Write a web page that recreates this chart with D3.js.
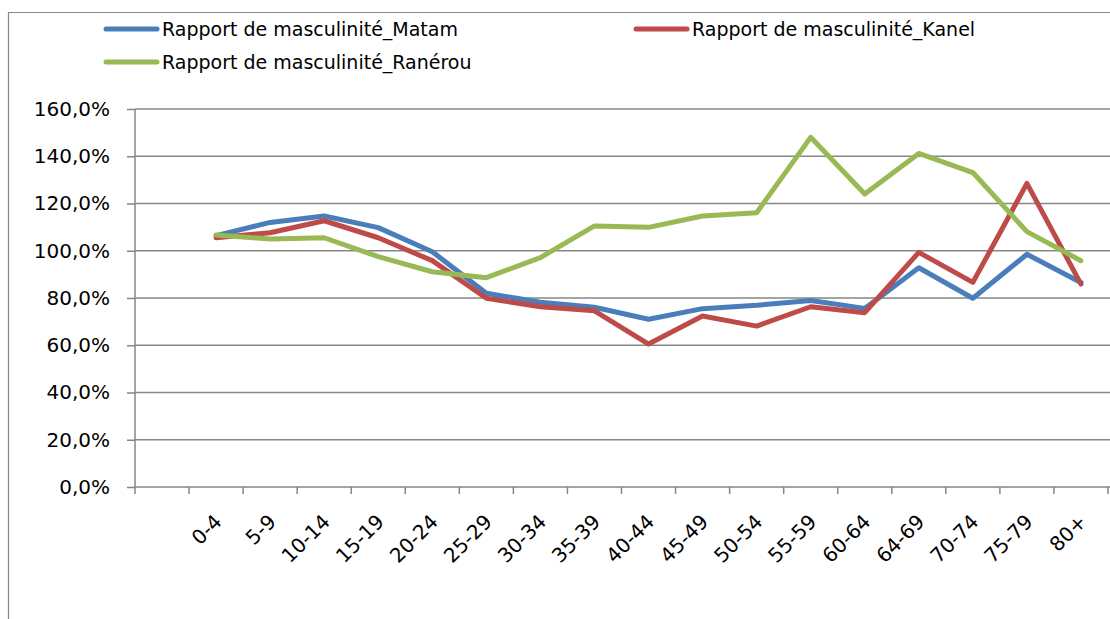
<!DOCTYPE html>
<html><head><meta charset="utf-8">
<script src="https://cdn.jsdelivr.net/npm/d3@7"></script>
<style>
html,body{margin:0;padding:0;background:#fff;}
svg{display:block;}
text{font-family:"DejaVu Sans",sans-serif;fill:#000;}
</style></head>
<body>
<svg id="chart" width="1110" height="619"></svg>
<script>
const categories = ["0-4","5-9","10-14","15-19","20-24","25-29","30-34","35-39","40-44","45-49","50-54","55-59","60-64","64-69","70-74","75-79","80+"];
const matam   = [106.4,112.0,114.7,109.8,99.6,82.0,78.2,76.1,71.0,75.5,76.9,78.9,75.6,92.8,79.9,98.5,86.6];
const kanel   = [105.5,107.6,112.7,105.5,95.8,79.9,76.3,74.6,60.5,72.4,68.1,76.3,73.8,99.3,86.6,128.5,85.9];
const ranerou = [106.7,105.0,105.5,97.5,91.1,88.6,97.1,110.5,109.9,114.7,116.1,148.0,124.0,141.2,133.1,108.1,95.8];
const seriesNames = ["Rapport de masculinité_Matam","Rapport de masculinité_Kanel","Rapport de masculinité_Ranérou"];
const seriesColors = ["#4A7EBB","#BE4B48","#98B954"];
const yTicks = [0,20,40,60,80,100,120,140,160];

(function(){
const svg = d3.select("#chart");
const pLeft = 135, pRight = 1108, pTop = 109, pBottom = 487;
const gridColor = "#868686";

svg.append("path").attr("d","M8.5,619 V12.5 H1110").attr("fill","none").attr("stroke",gridColor).attr("stroke-width",1.2);

const domain = ["", ...categories];
const x = d3.scaleBand().domain(domain).range([pLeft, pRight]);
const y = d3.scaleLinear().domain([0,160]).range([pBottom, pTop]);

svg.append("g").selectAll("line").data(yTicks.filter(d=>d>0)).join("line")
  .attr("x1", pLeft).attr("x2", 1110)
  .attr("y1", d=>y(d)).attr("y2", d=>y(d))
  .attr("stroke", gridColor).attr("stroke-width", 1.5);

const yAxis = svg.append("g").attr("transform",`translate(${pLeft},0)`)
  .call(d3.axisLeft(y).tickValues(yTicks).tickSize(8).tickPadding(17)
    .tickFormat(d => d.toFixed(1).replace(".", ",") + "%"));
yAxis.select(".domain").attr("stroke", gridColor).attr("stroke-width",1.5).attr("d",`M0,${y(160)}V${pBottom}`);
yAxis.selectAll(".tick line").attr("stroke", gridColor).attr("stroke-width",1.5);
yAxis.selectAll(".tick text").attr("font-size","20px").attr("font-family","DejaVu Sans").attr("fill","#000");

svg.append("line").attr("x1",pLeft).attr("x2",1110).attr("y1",pBottom).attr("y2",pBottom)
  .attr("stroke",gridColor).attr("stroke-width",1.5);
const bounds = domain.map(d => x(d)).concat([pRight]);
svg.append("g").selectAll("line").data(bounds).join("line")
  .attr("x1", d=>d).attr("x2", d=>d).attr("y1", pBottom).attr("y2", pBottom+7)
  .attr("stroke", gridColor).attr("stroke-width",1.5);

svg.append("g").selectAll("text").data(categories).join("text")
  .attr("text-anchor","end")
  .attr("font-size","20px")
  .attr("transform", d => `translate(${x(d)+x.bandwidth()/2+7},${pBottom+36}) rotate(-45)`)
  .text(d=>d);

const allSeries = [matam, kanel, ranerou];
const line = d3.line().x((d,i)=>x(categories[i])+x.bandwidth()/2).y(d=>y(d));
allSeries.forEach((s,i)=>{
  svg.append("path").datum(s).attr("d", line).attr("fill","none")
    .attr("stroke", seriesColors[i]).attr("stroke-width",5).attr("stroke-linejoin","round").attr("stroke-linecap","round");
});

const legendPos = [[106,29],[636,29],[106,62]];
seriesNames.forEach((n,i)=>{
  const [lx,ly] = legendPos[i];
  svg.append("line").attr("x1",lx).attr("x2",lx+51).attr("y1",ly).attr("y2",ly)
    .attr("stroke",seriesColors[i]).attr("stroke-width",5).attr("stroke-linecap","round");
  svg.append("text").attr("x",lx+56).attr("y",ly+7).attr("font-size","19px").text(n);
});
})();
</script>
</body></html>
